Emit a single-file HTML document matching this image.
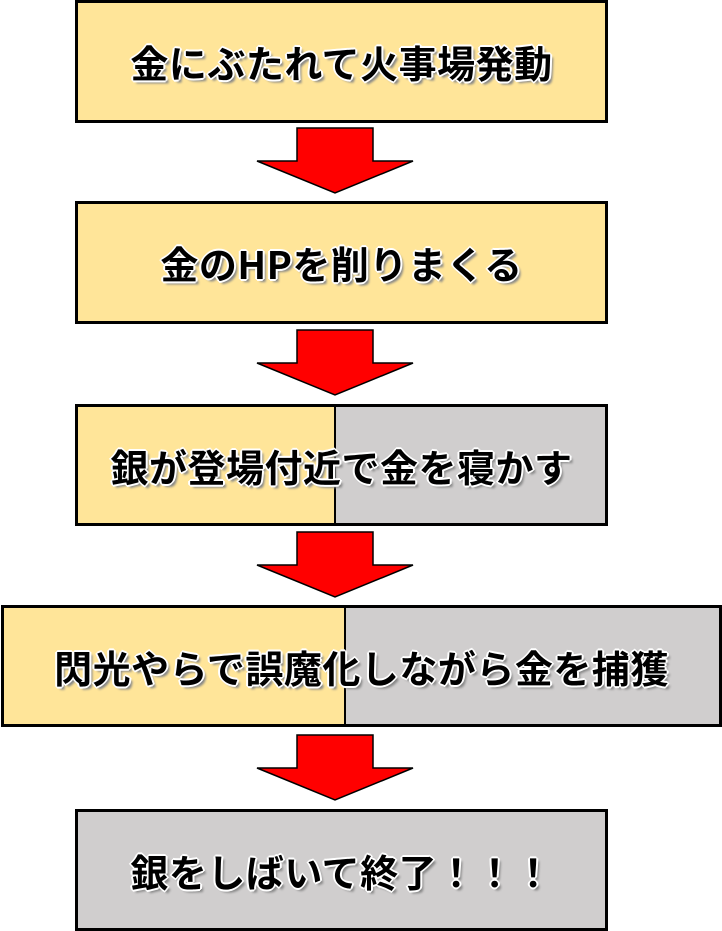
<!DOCTYPE html>
<html><head><meta charset="utf-8"><style>
body{margin:0;width:722px;height:931px;background:#fff;position:relative;overflow:hidden}
.b{position:absolute;box-sizing:border-box;border:3px solid #000;background:#FFE599;display:flex;align-items:center;justify-content:center;overflow:hidden}
.g{position:absolute;top:0;bottom:0;right:0;background:#D0CECE;border-left:2px solid #000}
.t{position:relative;font-family:"Noto Sans CJK JP","Liberation Sans",sans-serif;font-size:38px;font-weight:bold;color:#000;white-space:nowrap;letter-spacing:0.5px;
text-shadow:-1px -1px 0 #fff,1px -1px 0 #fff,-1px 1px 0 #fff,1px 1px 0 #fff,0 -2px 0 #fff,0 2px 0 #fff,-2px 0 0 #fff,2px 0 0 #fff,3px 3px 2px #888}
svg{position:absolute;left:0;top:0}
</style></head><body>
<div class="b" style="left:75px;top:0;width:533px;height:123px"><span class="t">金にぶたれて火事場発動</span></div>
<div class="b" style="left:75px;top:201px;width:533px;height:123px"><span class="t">金のHPを削りまくる</span></div>
<div class="b" style="left:75px;top:404px;width:533px;height:122px"><div class="g" style="left:256px"></div><span class="t">銀が登場付近で金を寝かす</span></div>
<div class="b" style="left:1px;top:605px;width:721px;height:122px"><div class="g" style="left:340px"></div><span class="t">閃光やらで誤魔化しながら金を捕獲</span></div>
<div class="b" style="left:75px;top:809px;width:533px;height:122px;background:#D0CECE"><span class="t">銀をしばいて終了！！！</span></div>
<svg width="722" height="931">
<g fill="#f00" stroke="#000" stroke-width="1.5">
<polygon points="297,128 373,128 373,161 413,161 335,193 257,161 297,161"/>
<polygon points="297,330 373,330 373,363 413,363 335,395 257,363 297,363"/>
<polygon points="297,532 373,532 373,565 413,565 335,597 257,565 297,565"/>
<polygon points="297,735 373,735 373,768 413,768 335,800 257,768 297,768"/>
</g></svg>
</body></html>
